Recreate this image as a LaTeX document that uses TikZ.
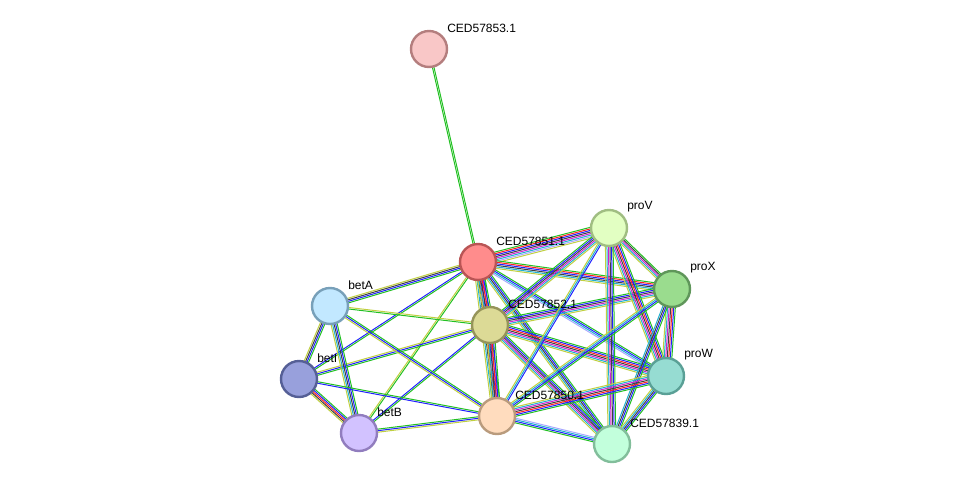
\documentclass[tikz,border=0pt]{standalone}
\usepackage{fontspec}
\setmainfont{Liberation Sans}
\usetikzlibrary{calc}
\definecolor{g}{HTML}{22C022}\definecolor{blu}{HTML}{2020FF}\definecolor{yg}{HTML}{C0D040}
\definecolor{blk}{HTML}{404040}\definecolor{rd}{HTML}{FF2020}\definecolor{mag}{HTML}{D020D0}
\definecolor{cy}{HTML}{20B0D0}\definecolor{lav}{HTML}{A8A8FF}
\newcommand{\edg}[4]{\foreach \c [count=\i] in {#4}{\pgfmathsetmacro\o{(\i-(#3+1)/2)*1.15}
  \draw[\c,line width=0.75pt] ($(#1)!\o pt!90:(#2)$) -- ($(#2)!\o pt!-90:(#1)$);}}
\tikzset{prot/.style={circle,minimum size=27pt,line width=1.8pt,inner sep=0pt},
 lab/.style={anchor=west,font=\fontsize{9}{10}\selectfont,inner sep=0pt}}
\begin{document}
\begin{tikzpicture}[x=0.75pt,y=-0.75pt]
\useasboundingbox (0,0) rectangle (976,490);
\coordinate (n853) at (429,49);\coordinate (n851) at (478,262);\coordinate (pV) at (609,228);
\coordinate (pX) at (672,289);\coordinate (bA) at (330,306);\coordinate (n852) at (490,325);
\coordinate (bI) at (299,379);\coordinate (pW) at (666,376);\coordinate (bB) at (359,433);
\coordinate (n850) at (497,416);\coordinate (n839) at (612,444);
\edg{n853}{n851}{2}{g,g}
\edg{n851}{pV}{8}{yg,lav,cy,mag,blk,blu,rd,g}
\edg{n851}{pX}{6}{yg,cy,blk,blu,rd,g}
\edg{n851}{pW}{4}{lav,cy,blu,g}
\edg{n851}{n839}{5}{yg,cy,blk,blu,g}
\edg{n851}{n850}{7}{yg,cy,blk,rd,blu,mag,g}
\edg{n851}{n852}{6}{yg,cy,blk,rd,blu,g}
\edg{n851}{bA}{4}{yg,blk,blu,g}
\edg{n851}{bI}{2}{blu,g}
\edg{n851}{bB}{2}{yg,g}
\edg{n852}{pV}{6}{yg,cy,mag,blk,blu,g}
\edg{n852}{pX}{6}{yg,cy,mag,blk,blu,g}
\edg{n852}{pW}{7}{yg,cy,mag,blk,rd,blu,g}
\edg{n852}{n839}{6}{yg,cy,mag,blk,blu,g}
\edg{n852}{n850}{6}{yg,cy,blk,rd,blu,g}
\edg{n852}{bA}{2}{yg,g}
\edg{n852}{bI}{3}{yg,blu,g}
\edg{n852}{bB}{2}{blu,g}
\edg{pV}{pX}{5}{yg,cy,mag,blk,g}
\edg{pV}{pW}{7}{yg,cy,mag,blk,rd,blu,g}
\edg{pV}{n839}{6}{yg,cy,mag,blk,blu,g}
\edg{pV}{n850}{3}{yg,cy,blu}
\edg{pX}{pW}{7}{yg,cy,mag,blk,rd,blu,g}
\edg{pX}{n839}{4}{cy,blk,blu,g}
\edg{pX}{n850}{4}{yg,cy,blu,g}
\edg{pW}{n839}{5}{yg,cy,blk,blu,g}
\edg{pW}{n850}{7}{yg,cy,mag,blk,rd,blu,g}
\edg{n839}{n850}{4}{lav,cy,blu,g}
\edg{bA}{bI}{4}{yg,blk,blu,g}
\edg{bA}{bB}{5}{yg,cy,blk,blu,g}
\edg{bA}{n850}{3}{yg,blu,g}
\edg{bI}{bB}{5}{yg,blk,rd,blu,g}
\edg{bI}{n850}{2}{blu,g}
\edg{bB}{n850}{3}{yg,blu,g}
\node[prot,fill={rgb,255:red,249;green,199;blue,199},draw={rgb,255:red,180;green,126;blue,126}] (a1) at (n853) {};
\node[prot,fill={rgb,255:red,255;green,140;blue,140},draw={rgb,255:red,185;green,85;blue,85}] (a2) at (n851) {};
\node[prot,fill={rgb,255:red,226;green,255;blue,194},draw={rgb,255:red,160;green,190;blue,130}] (a3) at (pV) {};
\node[prot,fill={rgb,255:red,154;green,220;blue,142},draw={rgb,255:red,95;green,150;blue,90}] (a4) at (pX) {};
\node[prot,fill={rgb,255:red,194;green,232;blue,255},draw={rgb,255:red,120;green,160;blue,185}] (a5) at (bA) {};
\node[prot,fill={rgb,255:red,220;green,218;blue,150},draw={rgb,255:red,150;green,148;blue,90}] (a6) at (n852) {};
\node[prot,fill={rgb,255:red,152;green,160;blue,220},draw={rgb,255:red,85;green,95;blue,150}] (a7) at (bI) {};
\node[prot,fill={rgb,255:red,150;green,220;blue,210},draw={rgb,255:red,90;green,160;blue,150}] (a8) at (pW) {};
\node[prot,fill={rgb,255:red,210;green,194;blue,255},draw={rgb,255:red,145;green,125;blue,190}] (a9) at (bB) {};
\node[prot,fill={rgb,255:red,255;green,220;blue,190},draw={rgb,255:red,185;green,155;blue,125}] (a10) at (n850) {};
\node[prot,fill={rgb,255:red,194;green,255;blue,220},draw={rgb,255:red,130;green,190;blue,155}] (a11) at (n839) {};
\node[lab] at (447,28) {CED57853.1};
\node[lab] at (496,241) {CED57851.1};
\node[lab] at (627,207) {proV};
\node[lab] at (690,268) {proX};
\node[lab] at (348,285) {betA};
\node[lab] at (508,304) {CED57852.1};
\node[lab] at (317,358) {betI};
\node[lab] at (684,355) {proW};
\node[lab] at (377,412) {betB};
\node[lab] at (515,395) {CED57850.1};
\node[lab] at (630,423) {CED57839.1};
\end{tikzpicture}
\end{document}
